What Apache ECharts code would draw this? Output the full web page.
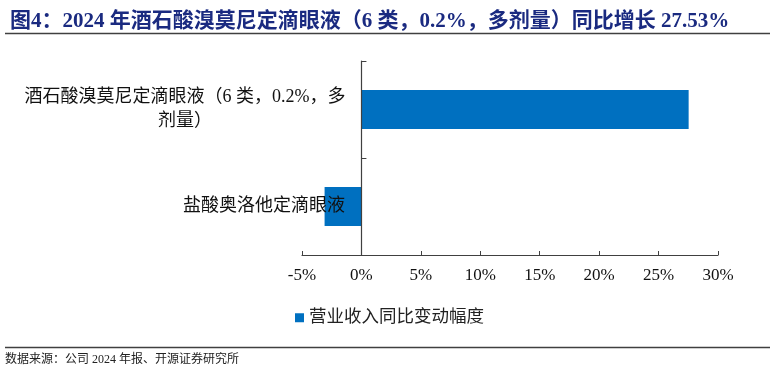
<!DOCTYPE html>
<html>
<head>
<meta charset="utf-8">
<script src="https://cdn.jsdelivr.net/npm/echarts@6/dist/echarts.min.js"></script>
<style>
html,body{margin:0;padding:0;background:#fff;}
#chart{width:774px;height:378px;}
</style>
</head>
<body>
<div id="chart"></div>
<script>
// ---- data ----
var titleText = '图4：2024 年酒石酸溴莫尼定滴眼液（6 类，0.2%，多剂量）同比增长 27.53%';
var sourceText = '数据来源：公司 2024 年报、开源证券研究所';
var seriesName = '营业收入同比变动幅度';
var categories = ['酒石酸溴莫尼定滴眼液（6 类，0.2%，多剂量）', '盐酸奥洛他定滴眼液'];
var values = [27.53, -3.1];
var xMin = -5, xMax = 30, xStep = 5;

var FONT = '"Liberation Serif", "Noto Sans CJK SC", serif';
var chart = echarts.init(document.getElementById('chart'), null, {renderer: 'canvas'});

function wrapLabel(name) {
  var limit = 21;
  if (name.length <= limit) return '{s|' + name + '}';
  var lines = [];
  for (var i = 0; i < name.length; i += limit) lines.push('{w|' + name.slice(i, i + limit) + '}');
  return lines.join('\n');
}

chart.setOption({
  backgroundColor: '#fff',
  animation: false,
  title: {
    text: titleText,
    left: 5, top: 6,
    textStyle: {fontFamily: FONT, fontSize: 21, fontWeight: 'bold', color: '#1a2a80'}
  },
  graphic: [
    {type: 'line', shape: {x1: 5, y1: 33.5, x2: 770, y2: 33.5}, style: {stroke: '#404040', lineWidth: 1.5}},
    {type: 'line', shape: {x1: 5, y1: 347.5, x2: 770, y2: 347.5}, style: {stroke: '#404040', lineWidth: 1.5}},
    {type: 'text', left: 5, top: 354, style: {text: sourceText, font: '12px ' + FONT, fill: '#222'}}
  ],
  legend: {
    data: [seriesName],
    left: 290, top: 304,
    icon: 'rect', itemWidth: 9, itemHeight: 9, itemGap: 10,
    textStyle: {fontFamily: FONT, fontSize: 17.5, color: '#222'}
  },
  grid: {left: 302, width: 416, top: 61, height: 194, containLabel: false, outerBoundsMode: 'none'},
  xAxis: {
    type: 'value', min: xMin, max: xMax, interval: xStep,
    axisLine: {show: true, lineStyle: {color: '#404040', width: 1.2}},
    axisTick: {show: true, inside: true, length: 4, lineStyle: {color: '#404040'}},
    splitLine: {show: false},
    axisLabel: {formatter: '{value}%', margin: 12, fontFamily: FONT, fontSize: 17, color: '#111'}
  },
  yAxis: {
    type: 'category', data: categories, inverse: true, z: 5,
    axisLine: {show: true, onZero: true, lineStyle: {color: '#404040', width: 1.2}},
    axisTick: {show: true, inside: true, length: 5, lineStyle: {color: '#404040'}},
    axisLabel: {
      margin: -43, fontFamily: FONT, fontSize: 18, color: '#111',
      formatter: wrapLabel,
      rich: {
        w: {width: 320, align: 'center', fontFamily: FONT, fontSize: 18, lineHeight: 24, color: '#111'},
        s: {fontFamily: FONT, fontSize: 18, color: '#111'}
      }
    }
  },
  series: [{
    name: seriesName, type: 'bar', data: values,
    barCategoryGap: '60%',
    itemStyle: {color: '#0070C0'}
  }]
});
</script>
</body>
</html>
